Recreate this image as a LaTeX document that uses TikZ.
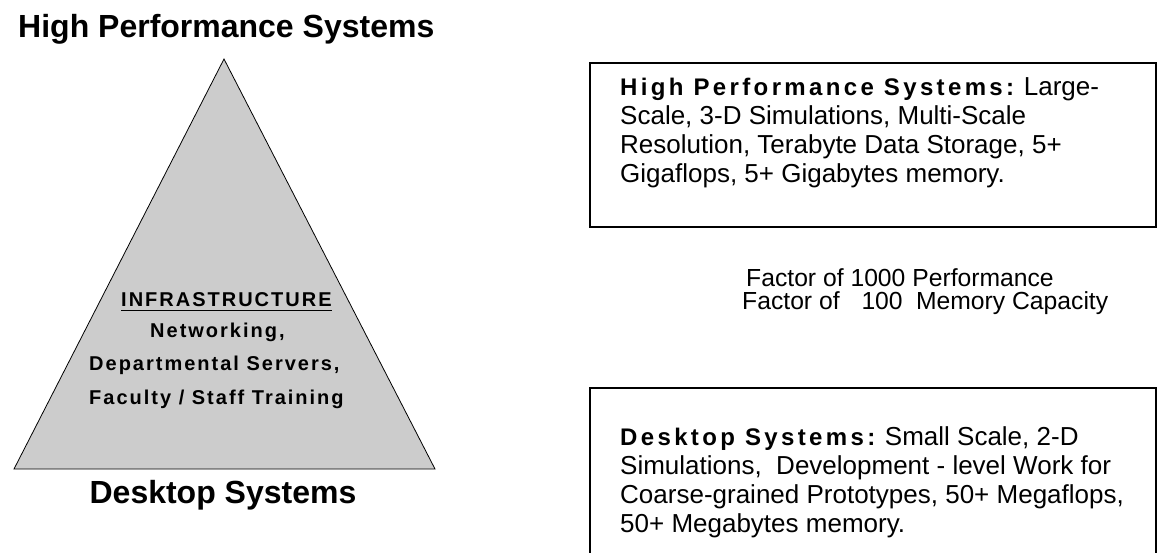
\documentclass[tikz,border=0pt]{standalone}
\usepackage{fontspec}
\setmainfont{Liberation Sans}
\newfontfamily\spacedfont{Liberation Sans}[LetterSpace=14]
\newfontfamily\infrafont{Liberation Sans}[LetterSpace=10]

\tikzset{
    txt/.style={inner sep=0pt, anchor=base west},
    boxtext/.style={txt, font=\fontsize{26}{29}\selectfont},
    bigtitle/.style={inner sep=0pt, anchor=base, font=\bfseries\fontsize{32}{32}\selectfont},
    infra/.style={inner sep=0pt, anchor=base west, font=\infrafont\bfseries\fontsize{20}{20}\selectfont}
}

\begin{document}
\begin{tikzpicture}[x=1pt,y=-1pt]
    \useasboundingbox (0,0) rectangle (1161,552);

    \node[bigtitle, anchor=base west] (hptitle) at (18,37) {High Performance Systems};
    \draw[fill=black!20, line width=0.8pt] (224,59) -- (14,469) -- (435,469) -- cycle;
    \node[bigtitle] (dttitle) at (223,503) {Desktop Systems};

    \node[infra] (infra) at (121,306) {INFRASTRUCTURE};
    \draw[line width=0.6pt] ([yshift=-4pt]infra.base west) -- ([yshift=-4pt]infra.base east);
    \node[infra] (net) at (150,337) {Networking,};
    \node[infra] (serv) at (89,370) {Departmental Servers,};
    \node[infra] (train) at (89,404) {Faculty / Staff Training};

    \draw[line width=2.2pt] (590,63) rectangle (1156,227);
    \foreach \t [count=\i] in {{{\spacedfont\bfseries\fontsize{24}{29}\selectfont High Performance Systems:} Large-},
        {Scale, 3-D Simulations, Multi-Scale},
        {Resolution, Terabyte Data Storage, 5+},
        {Gigaflops, 5+ Gigabytes memory.}}
        \node[boxtext] (hp\i) at (620,66+29*\i) {\t};

    \node[txt, font=\fontsize{24.7}{26}\selectfont] (perf) at (746,286) {Factor of 1000 Performance};
    \node[txt, font=\fontsize{24.7}{26}\selectfont] (mem) at (742,309) {Factor of\hspace{15pt} 100\hspace{6.5pt} Memory Capacity};

    \draw[line width=2.2pt] (590,560) -- (590,388) -- (1156,388) -- (1156,560);
    \foreach \t [count=\i] in {{{\spacedfont\bfseries\fontsize{24}{29}\selectfont Desktop Systems:} Small Scale, 2-D},
        {Simulations,\ \ Development - level Work for},
        {Coarse-grained Prototypes, 50+ Megaflops,},
        {50+ Megabytes memory.}}
        \node[boxtext] (dt\i) at (620,416+29*\i) {\t};
\end{tikzpicture}
\end{document}
